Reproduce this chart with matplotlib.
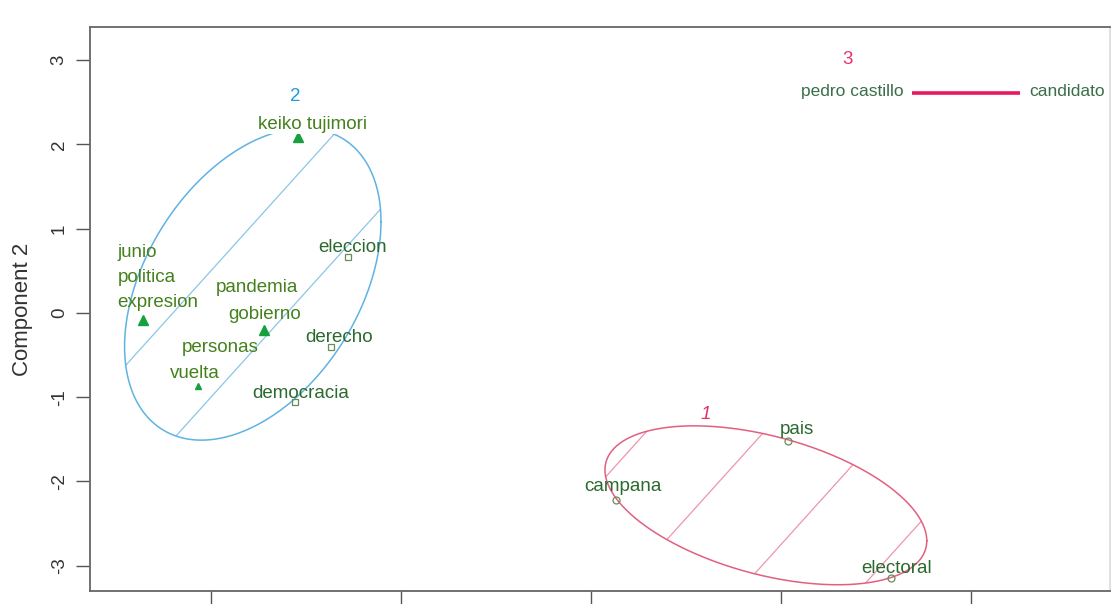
import numpy as np
import matplotlib
matplotlib.use('Agg')
import matplotlib.pyplot as plt
from matplotlib.patches import Polygon

plt.rcParams['font.family'] = ['Liberation Sans', 'DejaVu Sans']

# palavras e coordenadas nas duas componentes principais
palavras = ['keiko tujimori', 'junio', 'politica', 'expresion', 'pandemia', 'gobierno',
            'personas', 'vuelta', 'eleccion', 'derecho', 'democracia',
            'pais', 'campana', 'electoral', 'pedro castillo', 'candidato']
comp1 = [-1.54, -2.36, -2.36, -2.36, -1.72, -1.72, -2.07, -2.07, -1.28, -1.37, -1.56,
         1.04, 0.13, 1.58, 1.69, 2.26]
comp2 = [2.09, -0.08, -0.08, -0.08, -0.20, -0.20, -0.87, -0.87, 0.66, -0.40, -1.06,
         -1.52, -2.22, -3.14, 2.61, 2.61]
grupo = [2] * 11 + [1] * 3 + [3] * 2

# elipses dos clusters 1 e 2: centro e fator (cholesky) da forma
elip_centro = {2: (-1.78, 0.34), 1: (0.921, -2.283)}
elip_fator = {2: [[0.675, 0.0], [0.741, 1.695]],
              1: [[0.847, 0.0], [-0.42, 0.844]]}
# linhas de sombreamento: y = c + incl * x
hach_c = {2: [5.5, 4.0], 1: [-2.14, -3.69, -5.25, -6.82]}
hach_incl = 2.5

yticks = [-3, -2, -1, 0, 1, 2, 3]
xticks = [-2, -1, 0, 1, 2]

# estilo de cada ponto / rotulo (deslocamento em pixels)
marcador = ['^', None, None, '^', None, '^', None, '^', 's', 's', 's', 'o', 'o', 'o', None, None]
tam_marc = [7, 0, 0, 7, 0, 7, 0, 4, 5, 5, 5, 5, 5, 5, 0, 0]
desloc = [(14, 12), (-25, 67), (-25, 42), (-25, 17), (-7, 42), (0, 15),
          (23, 39), (-3, 13), (5, 10), (8, 9), (6, 9),
          (8, 11), (7, 13), (6, 9), (-8, 1), (9, 1)]
alinh = ['center', 'left', 'left', 'left', 'center', 'center', 'center', 'center',
         'center', 'center', 'center', 'center', 'center', 'center', 'right', 'left']

cor_elip = {2: '#5fb3e2', 1: '#e2607f'}
cor_hach = {2: '#8ac6e8', 1: '#eb96ac'}
fs = 13.5

fig = plt.figure(figsize=(11.11, 6.04), dpi=100)
ax = fig.add_axes([0.081, 0.0215, 0.918, 0.9335])
ax.set_xlim(-2.637, 2.732)
ax.set_ylim(-3.30, 3.39)

t = np.linspace(0, 2 * np.pi, 400)
for g in [2, 1]:
    cx, cy = elip_centro[g]
    L = np.array(elip_fator[g])
    pts = L @ np.vstack([np.cos(t), np.sin(t)])
    ex = cx + pts[0]
    ey = cy + pts[1]
    ax.plot(ex, ey, color=cor_elip[g], lw=1.1, zorder=2)
    patch = Polygon(np.column_stack([ex, ey]), closed=True, fill=False, lw=0)
    ax.add_patch(patch)
    xs = np.array([-5.0, 5.0])
    for c in hach_c[g]:
        ln, = ax.plot(xs, c + hach_incl * xs, color=cor_hach[g], lw=0.9, zorder=1)
        ln.set_clip_path(patch)

# cluster 3: so dois pontos, a elipse vira um segmento
i3 = [i for i, g in enumerate(grupo) if g == 3]
ax.plot([comp1[i] for i in i3], [comp2[i] for i in i3], color='#e8185e', lw=2.6,
        solid_capstyle='butt', zorder=2)

for i, w in enumerate(palavras):
    m = marcador[i]
    if m == '^':
        ax.plot(comp1[i], comp2[i], marker='^', ms=tam_marc[i], color='#17a040',
                mec='#17a040', ls='none', zorder=3)
    elif m is not None:
        ax.plot(comp1[i], comp2[i], marker=m, ms=tam_marc[i], mfc='none',
                mec='#6b8a5a', mew=0.9, ls='none', zorder=3)
    cor_txt = '#44801c' if grupo[i] == 2 else '#3a6e4a'
    if m in ('s', 'o'):
        cor_txt = '#2b6a2e'
    bbox = dict(fc='white', ec='none', pad=0.5) if i == 0 else None
    ax.annotate(w, (comp1[i], comp2[i]), xytext=desloc[i], textcoords='offset pixels',
                ha=alinh[i], va='center', fontsize=fs if grupo[i] != 3 else 12.5,
                color=cor_txt, bbox=bbox, zorder=4)

# numeros dos clusters
ax.text(-1.558, 2.562, '2', color='#1e9be0', fontsize=fs, ha='center', va='center')
ax.text(0.605, -1.21, '1', color='#e0306c', fontsize=fs, ha='center', va='center',
        style='italic')
ax.text(1.353, 3.01, '3', color='#e8336f', fontsize=fs, ha='center', va='center')

ax.set_yticks(yticks)
ax.set_yticklabels([str(v) for v in yticks], rotation=90, va='center', fontsize=fs,
                   color='#333333')
ax.set_xticks(xticks)
ax.tick_params(axis='y', length=10, width=1, color='#555555', pad=6)
ax.tick_params(axis='x', length=14, width=1, color='#555555', labelbottom=False)
ax.set_ylabel('Component 2', fontsize=16, color='#333333', labelpad=13)
for s in ax.spines.values():
    s.set_color('#666666')
    s.set_linewidth(1.3)
ax.spines['right'].set_color('#dddddd')

fig.savefig('out.png', dpi=100)
